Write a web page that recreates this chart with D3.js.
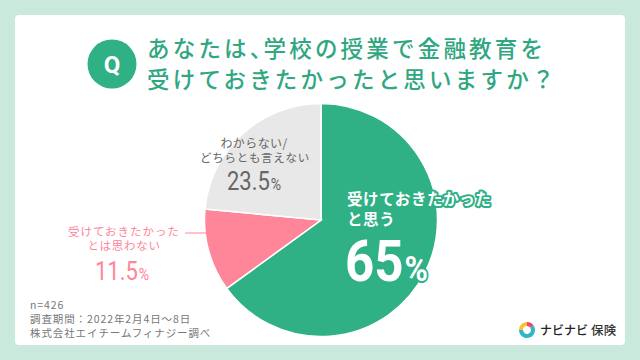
<!DOCTYPE html>
<html lang="ja">
<head>
<meta charset="UTF-8">
<title>金融教育アンケート</title>
<script src="https://d3js.org/d3.v7.min.js"></script>
<style>
  html, body { margin: 0; padding: 0; background: #c9e9dd; }
  svg { display: block; }
  text { font-family: "Noto Sans CJK JP", "Noto Sans", sans-serif; }
  .num { font-family: Roboto, sans-serif; }
</style>
</head>
<body>
<svg width="640" height="360"></svg>
<script>
// data
const categories = ["受けておきたかったと思う", "受けておきたかったとは思わない", "わからない/どちらとも言えない"];
const values = [65, 11.5, 23.5];
const colors = ["#2fb085", "#ff8599", "#e8e8e8"];
const titleLines = ["あなたは、学校の授業で金融教育を", "受けておきたかったと思いますか？"];
const noteLines = ["n=426", "調査期間：2022年2月4日～8日", "株式会社エイチームフィナジー調べ"];
const logoParts = [15, 60, 25];
const logoColors = ["#f0476a", "#2fb7c4", "#f5c33b"];

const svg = d3.select("svg");
const green = "#2fa780";

// card
svg.append("rect").attr("x", 15).attr("y", 15).attr("width", 610).attr("height", 330)
  .attr("rx", 4).attr("fill", "#fff");

// Q badge + title
svg.append("circle").attr("cx", 112).attr("cy", 64).attr("r", 24.5).attr("fill", "#2fb085");
svg.append("text").attr("class", "num").attr("x", 112).attr("y", 72.5).attr("text-anchor", "middle")
  .attr("font-size", 24).attr("font-weight", 700).attr("fill", "#fff").text("Q");

const title = svg.selectAll(".title").data(titleLines).join("text")
  .attr("class", "title")
  .attr("x", 147)
  .attr("y", (d, i) => 57 + i * 31)
  .attr("font-size", 22.5)
  .attr("font-weight", 500)
  .attr("letter-spacing", 3.2)
  .attr("fill", green);

// the 、 is set half width in the reference
title.each(function (d) {
  const parts = d.split("、");
  const t = d3.select(this);
  parts.forEach((p, i) => {
    t.append("tspan")
      .attr("dx", i ? -12 : 0)
      .text(i < parts.length - 1 ? p + "、" : p);
  });
});

// pie
const pie = d3.pie().sort(null)(values);
const arc = d3.arc().innerRadius(0).outerRadius(116.5);
const g = svg.append("g").attr("transform", "translate(321,220)");

// leader line for the pink slice
svg.append("line").attr("x1", 185).attr("x2", 206).attr("y1", 233).attr("y2", 233)
  .attr("stroke", "#ff8599").attr("stroke-width", 1);

g.selectAll("path").data(pie).join("path")
  .attr("d", arc)
  .attr("fill", (d, i) => colors[i])
  .attr("stroke", "#fff")
  .attr("stroke-width", 1.5);

// label helpers
function label(parent, x, y, txt, size, fill, anchor, spacing, weight) {
  return parent.append("text").attr("x", x).attr("y", y)
    .attr("text-anchor", anchor).attr("font-size", size).attr("fill", fill)
    .attr("letter-spacing", spacing).attr("font-weight", weight).text(txt);
}

// number and % in one text, narrowed a bit since the reference digits are condensed
function pct(parent, x, y, value, size, pctSize, fill, weight) {
  const t = parent.append("text").attr("class", "num")
    .attr("transform", `translate(${x},${y}) scale(0.88,1)`)
    .attr("fill", fill).attr("font-weight", weight);
  t.append("tspan").attr("font-size", size).text(value);
  t.append("tspan").attr("font-size", pctSize).attr("dx", 1).text("%");
}

// green slice label, outlined where it runs past the pie
const outlined = svg.append("g")
  .attr("stroke", "#2fb085").attr("stroke-width", 4)
  .attr("stroke-linejoin", "round").attr("paint-order", "stroke");
label(outlined, 347, 205, "受けておきたかった", 15.5, "#fff", "start", 0.6, 700);
label(outlined, 347, 225, "と思う", 15.5, "#fff", "start", 0.6, 700);
pct(outlined, 345, 281, values[0], 58, 36, "#fff", 700);

// grey slice label
label(svg, 254, 148, "わからない/", 12, "#666", "middle", 0.4, 400);
label(svg, 255, 162, "どちらとも言えない", 11.5, "#666", "middle", 0.7, 400);
pct(svg, 227, 190, values[2], 25, 16, "#666", 400);

// pink slice label
label(svg, 124, 236, "受けておきたかった", 11.5, "#ff8599", "middle", 1, 400);
label(svg, 124, 250, "とは思わない", 11.5, "#ff8599", "middle", 0.7, 400);
pct(svg, 95, 280, values[1], 25, 16, "#ff8599", 400);

// notes
svg.selectAll(".note").data(noteLines).join("text")
  .attr("class", "note")
  .attr("x", 30)
  .attr("y", (d, i) => 309 + i * 14)
  .attr("font-size", 10.5)
  .attr("letter-spacing", 0.9)
  .attr("fill", "#777")
  .text(d => d);

// logo
const logoArc = d3.arc().innerRadius(4).outerRadius(8);
const logo = svg.append("g").attr("transform", "translate(527,330)");
logo.selectAll("path").data(d3.pie().sort(null)(logoParts)).join("path")
  .attr("d", logoArc)
  .attr("fill", (d, i) => logoColors[i]);
label(svg, 540, 335, "ナビナビ", 12, "#222", "start", 0, 500);
label(svg, 591, 335, "保険", 12.5, "#333", "start", 0.3, 500);
</script>
</body>
</html>
